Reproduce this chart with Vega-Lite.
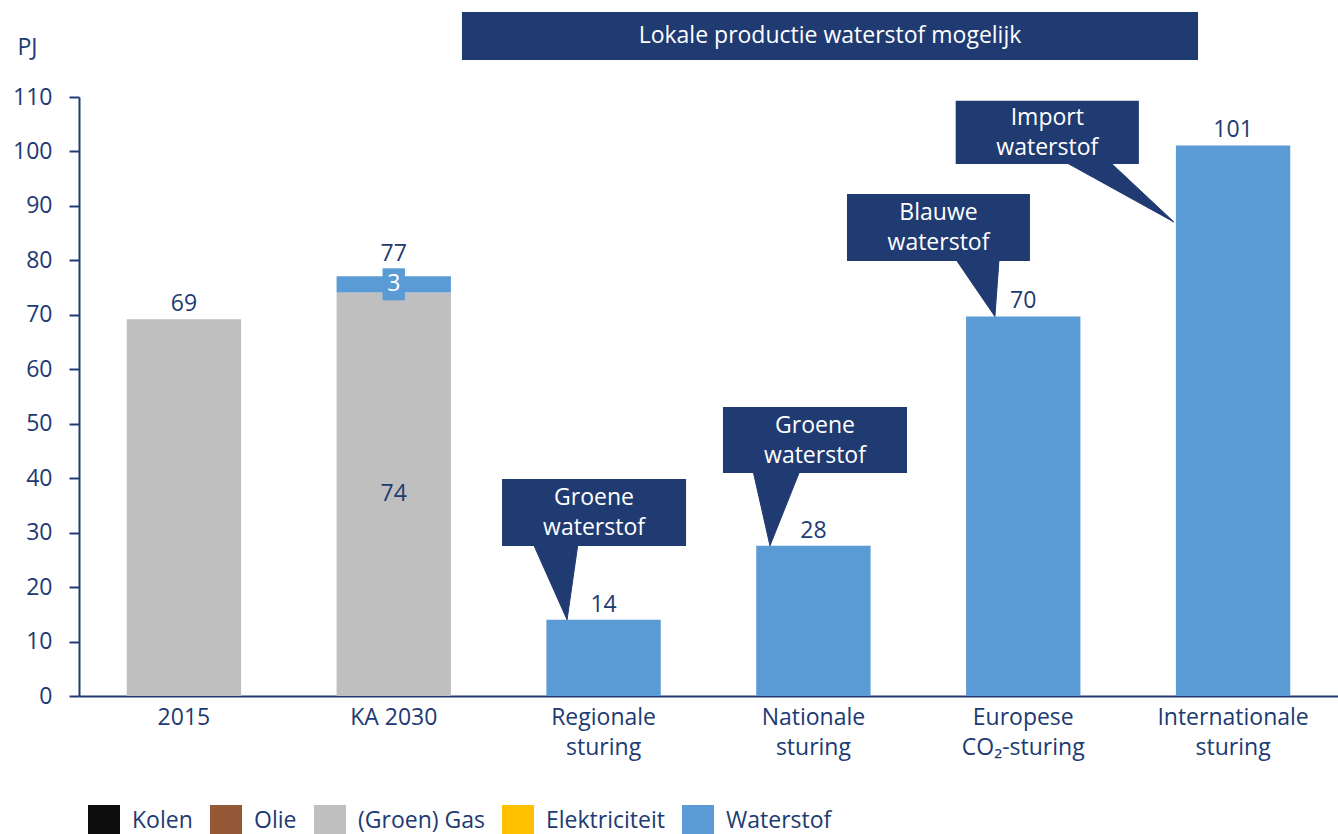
{
  "$schema": "https://vega.github.io/schema/vega-lite/v6.json",
  "width": 1259,
  "height": 599,
  "autosize": {"type": "none"},
  "padding": {"left": 79, "top": 97, "right": 0, "bottom": 138},
  "background": "white",
  "config": {
    "font": "Open Sans",
    "view": {"stroke": null},
    "axis": {"grid": false}
  },
  "datasets": {
    "energie": [
      {"categorie": "2015", "bron": "(Groen) Gas", "volgorde": 3, "waarde": 69.2},
      {"categorie": "KA 2030", "bron": "(Groen) Gas", "volgorde": 3, "waarde": 74.1},
      {"categorie": "KA 2030", "bron": "Waterstof", "volgorde": 5, "waarde": 3.0},
      {"categorie": "Regionale|sturing", "bron": "Waterstof", "volgorde": 5, "waarde": 14.0},
      {"categorie": "Nationale|sturing", "bron": "Waterstof", "volgorde": 5, "waarde": 27.6},
      {"categorie": "Europese|CO₂-sturing", "bron": "Waterstof", "volgorde": 5, "waarde": 69.7},
      {"categorie": "Internationale|sturing", "bron": "Waterstof", "volgorde": 5, "waarde": 101.1}
    ],
    "banner": [
      {"tekst": "Lokale productie waterstof mogelijk", "x1": 1.825, "x2": 5.333, "y1": 116.8, "y2": 125.6}
    ],
    "callouts": [
      {"id": "a", "tekst": "Groene|waterstof", "x1": 2.016, "x2": 2.893, "y1": 27.55, "y2": 39.85},
      {"id": "b", "tekst": "Groene|waterstof", "x1": 3.069, "x2": 3.946, "y1": 40.96, "y2": 53.08},
      {"id": "c", "tekst": "Blauwe|waterstof", "x1": 3.660, "x2": 4.532, "y1": 79.9, "y2": 92.2},
      {"id": "d", "tekst": "Import|waterstof", "x1": 4.178, "x2": 5.051, "y1": 97.7, "y2": 109.3}
    ],
    "pijlen": [
      {"id": "a", "punt": 1, "x": 2.164, "y": 28.0},
      {"id": "a", "punt": 2, "x": 2.326, "y": 14.0},
      {"id": "a", "punt": 3, "x": 2.378, "y": 28.0},
      {"id": "b", "punt": 1, "x": 3.212, "y": 41.4},
      {"id": "b", "punt": 2, "x": 3.293, "y": 27.6},
      {"id": "b", "punt": 3, "x": 3.436, "y": 41.4},
      {"id": "c", "punt": 1, "x": 4.175, "y": 80.4},
      {"id": "c", "punt": 2, "x": 4.365, "y": 69.7},
      {"id": "c", "punt": 3, "x": 4.385, "y": 80.4},
      {"id": "d", "punt": 1, "x": 4.694, "y": 98.2},
      {"id": "d", "punt": 2, "x": 5.218, "y": 87.05},
      {"id": "d", "punt": 3, "x": 4.909, "y": 98.2}
    ]
  },
  "resolve": {"scale": {"x": "independent"}, "axis": {"x": "independent"}},
  "layer": [
    {
      "data": {"name": "energie"},
      "layer": [
        {
          "mark": {"type": "bar"},
          "encoding": {
            "x": {
              "field": "categorie",
              "type": "nominal",
              "sort": null,
              "scale": {
                "domain": ["2015", "KA 2030", "Regionale|sturing", "Nationale|sturing", "Europese|CO₂-sturing", "Internationale|sturing"],
                "paddingInner": 0.455,
                "paddingOuter": 0.2275
              },
              "axis": {
                "title": null,
                "labelAngle": 0,
                "labelExpr": "split(datum.label, '|')",
                "labelFontSize": 23,
                "labelColor": "#203A72",
                "labelLineHeight": 30,
                "labelPadding": 10,
                "ticks": false,
                "domainColor": "#203A72",
                "domainWidth": 2
              }
            },
            "y": {
              "field": "waarde",
              "type": "quantitative",
              "stack": "zero",
              "title": "PJ",
              "scale": {"domain": [0, 110], "nice": false},
              "axis": {
                "title": "PJ",
                "titleAngle": 0,
                "titleX": -52,
                "titleY": -50,
                "titleAlign": "center",
                "titleBaseline": "middle",
                "titleFontSize": 23,
                "titleFontWeight": "normal",
                "titleColor": "#203A72",
                "values": [0, 10, 20, 30, 40, 50, 60, 70, 80, 90, 100, 110],
                "labelFontSize": 23,
                "labelColor": "#203A72",
                "labelPadding": 17,
                "tickSize": 10,
                "tickWidth": 2,
                "tickColor": "#203A72",
                "domainColor": "#203A72",
                "domainWidth": 2
              }
            },
            "color": {
              "field": "bron",
              "type": "nominal",
              "scale": {
                "domain": ["Kolen", "Olie", "(Groen) Gas", "Elektriciteit", "Waterstof"],
                "range": ["#0D0D0D", "#955837", "#BFBFBF", "#FFC000", "#5B9BD5"]
              },
              "legend": {
                "orient": "none",
                "legendX": 9,
                "legendY": 708,
                "direction": "horizontal",
                "title": null,
                "symbolType": "square",
                "symbolSize": 1024,
                "symbolStrokeWidth": 0,
                "labelFontSize": 23,
                "labelColor": "#203A72",
                "labelOffset": 12,
                "columnPadding": 17
              }
            },
            "order": {"field": "volgorde", "type": "quantitative"}
          }
        },
        {
          "transform": [
            {"aggregate": [{"op": "sum", "field": "waarde", "as": "totaal"}], "groupby": ["categorie"]},
            {"filter": "datum.categorie != 'KA 2030'"}
          ],
          "mark": {"type": "text", "baseline": "alphabetic", "dy": -8, "fontSize": 23, "color": "#203A72"},
          "encoding": {
            "x": {"field": "categorie", "type": "nominal", "sort": null},
            "y": {"field": "totaal", "type": "quantitative", "title": "PJ"},
            "text": {"field": "totaal", "type": "quantitative", "format": ".0f"}
          }
        },
        {
          "transform": [
            {"aggregate": [{"op": "sum", "field": "waarde", "as": "totaal"}], "groupby": ["categorie"]},
            {"filter": "datum.categorie == 'KA 2030'"}
          ],
          "mark": {"type": "text", "baseline": "alphabetic", "dy": -15, "fontSize": 23, "color": "#203A72"},
          "encoding": {
            "x": {"field": "categorie", "type": "nominal", "sort": null},
            "y": {"field": "totaal", "type": "quantitative", "title": "PJ"},
            "text": {"field": "totaal", "type": "quantitative", "format": ".0f"}
          }
        },
        {
          "transform": [
            {"filter": "datum.categorie == 'KA 2030'"},
            {"stack": "waarde", "groupby": ["categorie"], "sort": [{"field": "volgorde"}], "as": ["van", "tot"]},
            {"calculate": "(datum.van + datum.tot) / 2", "as": "midden"}
          ],
          "layer": [
            {
              "transform": [{"filter": "datum.bron == 'Waterstof'"}],
              "mark": {"type": "point", "shape": "M-0.7,-1L0.7,-1L0.7,1L-0.7,1Z", "size": 1024, "filled": true, "color": "#5B9BD5", "opacity": 1, "strokeWidth": 0},
              "encoding": {
                "x": {"field": "categorie", "type": "nominal", "sort": null},
                "y": {"field": "midden", "type": "quantitative", "title": "PJ"}
              }
            },
            {
              "mark": {"type": "text", "baseline": "middle", "fontSize": 23},
              "encoding": {
                "x": {"field": "categorie", "type": "nominal", "sort": null},
                "y": {"field": "midden", "type": "quantitative", "title": "PJ"},
                "text": {"field": "waarde", "type": "quantitative", "format": ".0f"},
                "color": {"condition": {"test": "datum.bron == 'Waterstof'", "value": "white"}, "value": "#203A72"}
              }
            }
          ]
        }
      ]
    },
    {
      "layer": [
        {
          "data": {"name": "banner"},
          "mark": {"type": "rect", "color": "#203A72"},
          "encoding": {
            "x": {"field": "x1", "type": "quantitative", "scale": {"domain": [0, 6], "nice": false, "zero": false}, "axis": null},
            "x2": {"field": "x2"},
            "y": {"field": "y1", "type": "quantitative", "title": "PJ"},
            "y2": {"field": "y2"}
          }
        },
        {
          "data": {"name": "banner"},
          "transform": [
            {"calculate": "(datum.x1 + datum.x2) / 2", "as": "cx"},
            {"calculate": "(datum.y1 + datum.y2) / 2", "as": "cy"}
          ],
          "mark": {"type": "text", "color": "white", "fontSize": 23, "baseline": "middle", "align": "center"},
          "encoding": {
            "x": {"field": "cx", "type": "quantitative", "axis": null},
            "y": {"field": "cy", "type": "quantitative", "title": "PJ"},
            "text": {"field": "tekst"}
          }
        },
        {
          "data": {"name": "pijlen"},
          "mark": {"type": "line", "color": "#203A72", "fill": "#203A72", "stroke": "#203A72", "strokeWidth": 1},
          "encoding": {
            "x": {"field": "x", "type": "quantitative", "axis": null},
            "y": {"field": "y", "type": "quantitative", "title": "PJ"},
            "detail": {"field": "id"},
            "order": {"field": "punt", "type": "quantitative"}
          }
        },
        {
          "data": {"name": "callouts"},
          "mark": {"type": "rect", "color": "#203A72"},
          "encoding": {
            "x": {"field": "x1", "type": "quantitative", "axis": null},
            "x2": {"field": "x2"},
            "y": {"field": "y1", "type": "quantitative", "title": "PJ"},
            "y2": {"field": "y2"}
          }
        },
        {
          "data": {"name": "callouts"},
          "transform": [
            {"calculate": "(datum.x1 + datum.x2) / 2", "as": "cx"},
            {"calculate": "(datum.y1 + datum.y2) / 2", "as": "cy"}
          ],
          "mark": {"type": "text", "color": "white", "fontSize": 23, "baseline": "middle", "align": "center", "lineBreak": "|", "lineHeight": 30, "dy": -14},
          "encoding": {
            "x": {"field": "cx", "type": "quantitative", "axis": null},
            "y": {"field": "cy", "type": "quantitative", "title": "PJ"},
            "text": {"field": "tekst"}
          }
        }
      ]
    }
  ]
}
